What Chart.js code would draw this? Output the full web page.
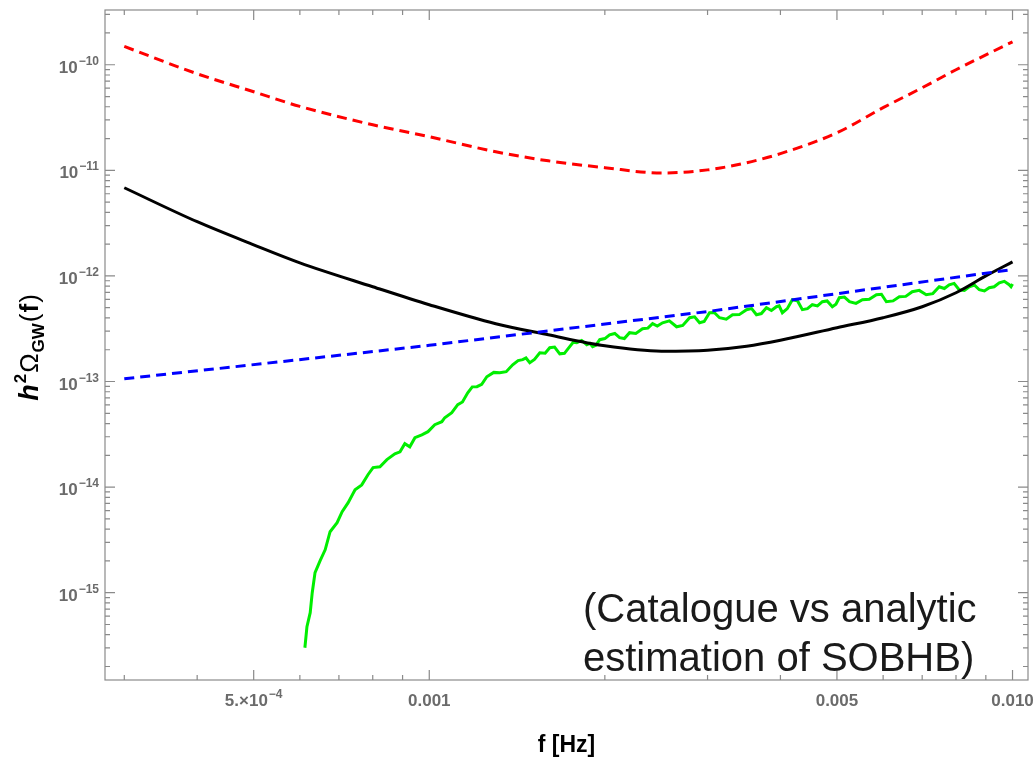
<!DOCTYPE html>
<html>
<head>
<meta charset="utf-8">
<script src="https://cdn.jsdelivr.net/npm/chart.js@4.4.1/dist/chart.umd.min.js"></script>
<style>
body { margin: 0; background: #fff; }
#wrap { width: 1033px; height: 761px; }
</style>
</head>
<body>
<div id="wrap"><canvas id="gwChart"></canvas></div>
<script>
// frequencies (Hz) for the smooth curves
var curveFreq = [3e-4, 4e-4, 5e-4, 6e-4, 8e-4, 1e-3, 1.3e-3, 1.6e-3, 2e-3, 2.5e-3, 3e-3, 3.5e-3, 4e-3, 5e-3, 6e-3, 7e-3, 8e-3, 9e-3, 1e-2];
var redVals = [1.49e-10, 8.22e-11, 5.55e-11, 4.03e-11, 2.70e-11, 2.08e-11, 1.50e-11, 1.23e-11, 1.06e-11, 9.43e-12, 1.01e-11, 1.18e-11, 1.44e-11, 2.27e-11, 3.92e-11, 6.06e-11, 8.97e-11, 1.24e-10, 1.65e-10];
var blackVals = [6.84e-12, 3.26e-12, 1.97e-12, 1.33e-12, 7.90e-13, 5.34e-13, 3.53e-13, 2.77e-13, 2.18e-13, 1.94e-13, 1.98e-13, 2.16e-13, 2.46e-13, 3.23e-13, 4.02e-13, 5.11e-13, 6.93e-13, 1.00e-12, 1.36e-12];

var blueFreq = [3e-4, 1e-3, 3e-3, 1e-2];
var blueVals = [1.06e-13, 2.2e-13, 4.6e-13, 1.15e-12];

// catalogue (noisy) curve, main trace
var greenFreq = [6.12e-4, 6.17e-4, 6.25e-4, 6.30e-4, 6.37e-4, 6.50e-4, 6.63e-4, 6.76e-4, 6.95e-4, 7.09e-4,
  7.26e-4, 7.46e-4, 7.66e-4, 7.85e-4, 8.01e-4, 8.23e-4, 8.46e-4, 8.73e-4, 8.91e-4, 9.08e-4,
  9.26e-4, 9.45e-4, 9.71e-4, 9.95e-4, 1.022e-3, 1.051e-3, 1.063e-3, 1.093e-3, 1.119e-3, 1.164e-3,
  1.207e-3, 1.255e-3, 1.321e-3, 1.390e-3, 1.446e-3, 1.487e-3, 1.547e-3, 1.609e-3, 1.674e-3, 1.741e-3,
  1.790e-3, 1.862e-3, 1.906e-3, 1.960e-3, 2.038e-3, 2.120e-3, 2.205e-3, 2.321e-3, 2.415e-3, 2.512e-3,
  2.655e-3, 2.795e-3, 2.907e-3, 3.024e-3, 3.145e-3, 3.311e-3, 3.499e-3, 3.639e-3, 3.785e-3, 3.937e-3,
  4.031e-3, 4.193e-3, 4.362e-3, 4.537e-3, 4.721e-3, 4.910e-3, 5.047e-3, 5.253e-3, 5.529e-3, 5.843e-3,
  6.077e-3, 6.396e-3, 6.731e-3, 7.113e-3, 7.487e-3, 7.788e-3, 8.10e-3, 8.43e-3, 8.77e-3, 9.12e-3,
  9.49e-3, 9.87e-3, 1.0e-2];
var greenVals = [3.01e-16, 4.77e-16, 6.47e-16, 1.0e-15, 1.55e-15, 2.01e-15, 2.55e-15, 3.78e-15, 4.60e-15, 5.85e-15,
  7.12e-15, 9.45e-15, 1.05e-14, 1.31e-14, 1.53e-14, 1.56e-14, 1.82e-14, 2.07e-14, 2.16e-14, 2.58e-14,
  2.41e-14, 2.94e-14, 3.13e-14, 3.35e-14, 3.90e-14, 4.16e-14, 4.54e-14, 5.06e-14, 6.03e-14, 7.83e-14,
  8.93e-14, 1.11e-13, 1.21e-13, 1.44e-13, 1.61e-13, 1.51e-13, 1.87e-13, 2.09e-13, 1.83e-13, 2.14e-13,
  2.33e-13, 2.23e-13, 2.14e-13, 2.49e-13, 2.77e-13, 2.60e-13, 2.90e-13, 3.16e-13, 3.53e-13, 3.60e-13,
  3.30e-13, 4.02e-13, 3.60e-13, 4.48e-13, 4.02e-13, 4.29e-13, 4.79e-13, 4.29e-13, 5.00e-13, 5.11e-13,
  4.48e-13, 5.95e-13, 4.79e-13, 5.34e-13, 5.70e-13, 5.11e-13, 6.22e-13, 5.70e-13, 5.95e-13, 6.64e-13,
  5.70e-13, 6.35e-13, 7.09e-13, 6.64e-13, 7.90e-13, 8.25e-13, 7.40e-13, 7.90e-13, 7.40e-13, 7.73e-13,
  8.62e-13, 8.25e-13, 8.40e-13];
// extra wiggles of the noisy band (read between the main points)
var greenFuzzFreq = [1.14e-3, 1.185e-3, 1.23e-3, 1.29e-3, 1.355e-3, 1.42e-3, 1.465e-3, 1.515e-3, 1.58e-3, 1.64e-3,
  1.705e-3, 1.765e-3, 1.825e-3, 1.885e-3, 1.93e-3, 2.0e-3, 2.08e-3, 2.16e-3, 2.26e-3, 2.37e-3,
  2.46e-3, 2.58e-3, 2.72e-3, 2.85e-3, 2.96e-3, 3.08e-3, 3.23e-3, 3.4e-3, 3.57e-3, 3.71e-3,
  3.86e-3, 3.98e-3, 4.11e-3, 4.28e-3, 4.45e-3, 4.63e-3, 4.81e-3, 4.98e-3, 5.15e-3, 5.39e-3,
  5.68e-3, 5.96e-3, 6.24e-3, 6.56e-3, 6.92e-3, 7.3e-3, 7.64e-3, 7.94e-3, 8.27e-3, 8.6e-3,
  8.95e-3, 9.3e-3, 9.68e-3, 9.94e-3];
var greenFuzzVals = [6.4e-14, 8.9e-14, 9.4e-14, 1.22e-13, 1.24e-13, 1.58e-13, 1.67e-13, 1.62e-13, 1.85e-13, 2.12e-13,
  1.85e-13, 2.35e-13, 2.45e-13, 2.3e-13, 2.2e-13, 2.55e-13, 2.85e-13, 2.55e-13, 2.85e-13, 3.2e-13,
  3.35e-13, 3.75e-13, 3.4e-13, 4.1e-13, 3.7e-13, 4.5e-13, 3.9e-13, 4.3e-13, 4.9e-13, 4.4e-13,
  4.7e-13, 5.2e-13, 4.9e-13, 5.8e-13, 4.9e-13, 5.2e-13, 5.8e-13, 5.4e-13, 6.3e-13, 5.5e-13,
  6.0e-13, 6.7e-13, 5.8e-13, 6.4e-13, 7.3e-13, 6.8e-13, 7.6e-13, 8.5e-13, 7.3e-13, 8.2e-13,
  7.2e-13, 7.9e-13, 8.9e-13, 7.9e-13];

var xTickVals = [5e-4, 1e-3, 5e-3, 1e-2];
var xTickLabels = ['5.\u00d710^\u22124', '0.001', '0.005', '0.010'];
var xMinorVals = [3e-4, 4e-4, 6e-4, 7e-4, 8e-4, 9e-4, 2e-3, 3e-3, 4e-3, 6e-3, 7e-3, 8e-3, 9e-3];
var yTickVals = [1e-15, 1e-14, 1e-13, 1e-12, 1e-11, 1e-10];
var yTickLabels = ['10^\u221215', '10^\u221214', '10^\u221213', '10^\u221212', '10^\u221211', '10^\u221210'];

var xMin = 2.78e-4, xMax = 1.063e-2;
var yMin = 1.49e-16, yMax = 3.3e-10;

var yMinorVals = [];
for (var d = -16; d <= -10; d++) {
  for (var m = 2; m <= 9; m++) {
    var v = m * Math.pow(10, d);
    if (v > yMin && v < yMax) yMinorVals.push(v);
  }
}

function toPoints(xs, ys) {
  var pts = [];
  for (var i = 0; i < xs.length; i++) pts.push({ x: xs[i], y: ys[i] });
  return pts;
}

var greenPoints = toPoints(greenFreq, greenVals).concat(toPoints(greenFuzzFreq, greenFuzzVals));
greenPoints.sort(function(a, b) { return a.x - b.x; });

var tickColor = '#8a8a8a';
var labelColor = '#6b6b6b';
var fontName = '"Liberation Sans", Arial, sans-serif';

// draws "base^exp" with a raised exponent; align: 'right' or 'center'
function drawPowLabel(ctx, text, x, y, align) {
  var bits = text.split('^');
  ctx.font = 'bold 17px ' + fontName;
  var wb = ctx.measureText(bits[0]).width;
  var we = 0;
  if (bits[1]) { ctx.font = 'bold 12px ' + fontName; we = ctx.measureText(bits[1]).width + 1; }
  var x0 = align === 'right' ? x - wb - we : x - (wb + we) / 2;
  ctx.font = 'bold 17px ' + fontName;
  ctx.fillText(bits[0], x0, y);
  if (bits[1]) {
    ctx.font = 'bold 12px ' + fontName;
    ctx.fillText(bits[1], x0 + wb + 1, y - 8);
  }
}

// Mathematica style box with inward ticks on all sides
var framePlugin = {
  id: 'frame',
  beforeDatasetsDraw: function(chart) {
    var ctx = chart.ctx, a = chart.chartArea;
    var xs = chart.scales.x, ys = chart.scales.y;
    ctx.save();
    ctx.strokeStyle = tickColor;
    ctx.lineWidth = 1.2;
    ctx.strokeRect(a.left, a.top, a.right - a.left, a.bottom - a.top);
    ctx.beginPath();
    function xTick(v, len) {
      var p = xs.getPixelForValue(v);
      ctx.moveTo(p, a.bottom); ctx.lineTo(p, a.bottom - len);
      ctx.moveTo(p, a.top); ctx.lineTo(p, a.top + len);
    }
    function yTick(v, len) {
      var p = ys.getPixelForValue(v);
      ctx.moveTo(a.left, p); ctx.lineTo(a.left + len, p);
      ctx.moveTo(a.right, p); ctx.lineTo(a.right - len, p);
    }
    xTickVals.forEach(function(v) { xTick(v, 10); });
    xMinorVals.forEach(function(v) { xTick(v, 5); });
    yTickVals.forEach(function(v) { yTick(v, 10); });
    yMinorVals.forEach(function(v) { yTick(v, 5); });
    ctx.stroke();

    // tick labels
    ctx.fillStyle = labelColor;
    ctx.textBaseline = 'alphabetic';
    ctx.textAlign = 'left';
    yTickVals.forEach(function(v, i) {
      drawPowLabel(ctx, yTickLabels[i], a.left - 6, ys.getPixelForValue(v) + 8, 'right');
    });
    xTickVals.forEach(function(v, i) {
      drawPowLabel(ctx, xTickLabels[i], xs.getPixelForValue(v), a.bottom + 26, 'center');
    });
    ctx.restore();
  },
  afterDraw: function(chart) {
    var ctx = chart.ctx;
    // y axis title  h^2 Omega_GW (f)
    var parts = [
      { t: 'h', f: 'italic bold 27px ' + fontName, dy: 0 },
      { t: '2', f: 'bold 17px ' + fontName, dy: -12 },
      { t: '\u03a9', f: '26px ' + fontName, dy: 0 },
      { t: 'GW', f: 'bold 17px ' + fontName, dy: 6 },
      { t: '(', f: '26px ' + fontName, dy: 0 },
      { t: 'f', f: 'bold 26px ' + fontName, dy: 0 },
      { t: ')', f: '26px ' + fontName, dy: 0 }
    ];
    ctx.save();
    var total = 0;
    parts.forEach(function(p) { ctx.font = p.f; p.w = ctx.measureText(p.t).width; total += p.w + 1; });
    ctx.translate(38, 347);
    ctx.rotate(-Math.PI / 2);
    ctx.fillStyle = '#000';
    ctx.textBaseline = 'alphabetic';
    var x = -total / 2;
    parts.forEach(function(p) { ctx.font = p.f; ctx.fillText(p.t, x, p.dy); x += p.w + 1; });
    ctx.restore();

    // annotation
    ctx.save();
    ctx.fillStyle = '#1a1a1a';
    ctx.font = '40px ' + fontName;
    ctx.textBaseline = 'alphabetic';
    ctx.fillText('(Catalogue vs analytic', 583, 622);
    ctx.fillText('estimation of SOBHB)', 583, 671);
    ctx.restore();
  }
};

new Chart(document.getElementById('gwChart'), {
  type: 'line',
  data: {
    datasets: [
      { data: toPoints(curveFreq, redVals), borderColor: '#ff0000', borderWidth: 3, borderDash: [10, 6], cubicInterpolationMode: 'monotone', pointRadius: 0, order: 1 },
      { data: toPoints(blueFreq, blueVals), borderColor: '#0000ff', borderWidth: 3, borderDash: [10, 6], pointRadius: 0, order: 2 },
      { data: toPoints(curveFreq, blackVals), borderColor: '#000000', borderWidth: 3, cubicInterpolationMode: 'monotone', pointRadius: 0, order: 3 },
      { data: greenPoints, borderColor: '#00ee00', borderWidth: 3, tension: 0, pointRadius: 0, order: 4 }
    ]
  },
  options: {
    responsive: true,
    maintainAspectRatio: false,
    animation: false,
    layout: { padding: { left: 0, right: 5, top: 10, bottom: 0 } },
    plugins: { legend: { display: false }, tooltip: { enabled: false } },
    scales: {
      x: {
        type: 'logarithmic',
        min: xMin,
        max: xMax,
        grid: { display: false, drawTicks: false },
        border: { display: false },
        ticks: { display: false },
        afterFit: function(scale) { scale.height = 81; scale.paddingLeft = 0; scale.paddingRight = 0; },
        title: {
          display: true,
          text: 'f [Hz]',
          color: '#000',
          font: { family: 'Liberation Sans', size: 23, weight: 'bold' },
          padding: { top: 0, bottom: 2 }
        }
      },
      y: {
        type: 'logarithmic',
        min: yMin,
        max: yMax,
        grid: { display: false, drawTicks: false },
        border: { display: false },
        ticks: { display: false },
        afterFit: function(scale) { scale.width = 105; scale.paddingTop = 0; scale.paddingBottom = 0; }
      }
    }
  },
  plugins: [framePlugin]
});
</script>
</body>
</html>
